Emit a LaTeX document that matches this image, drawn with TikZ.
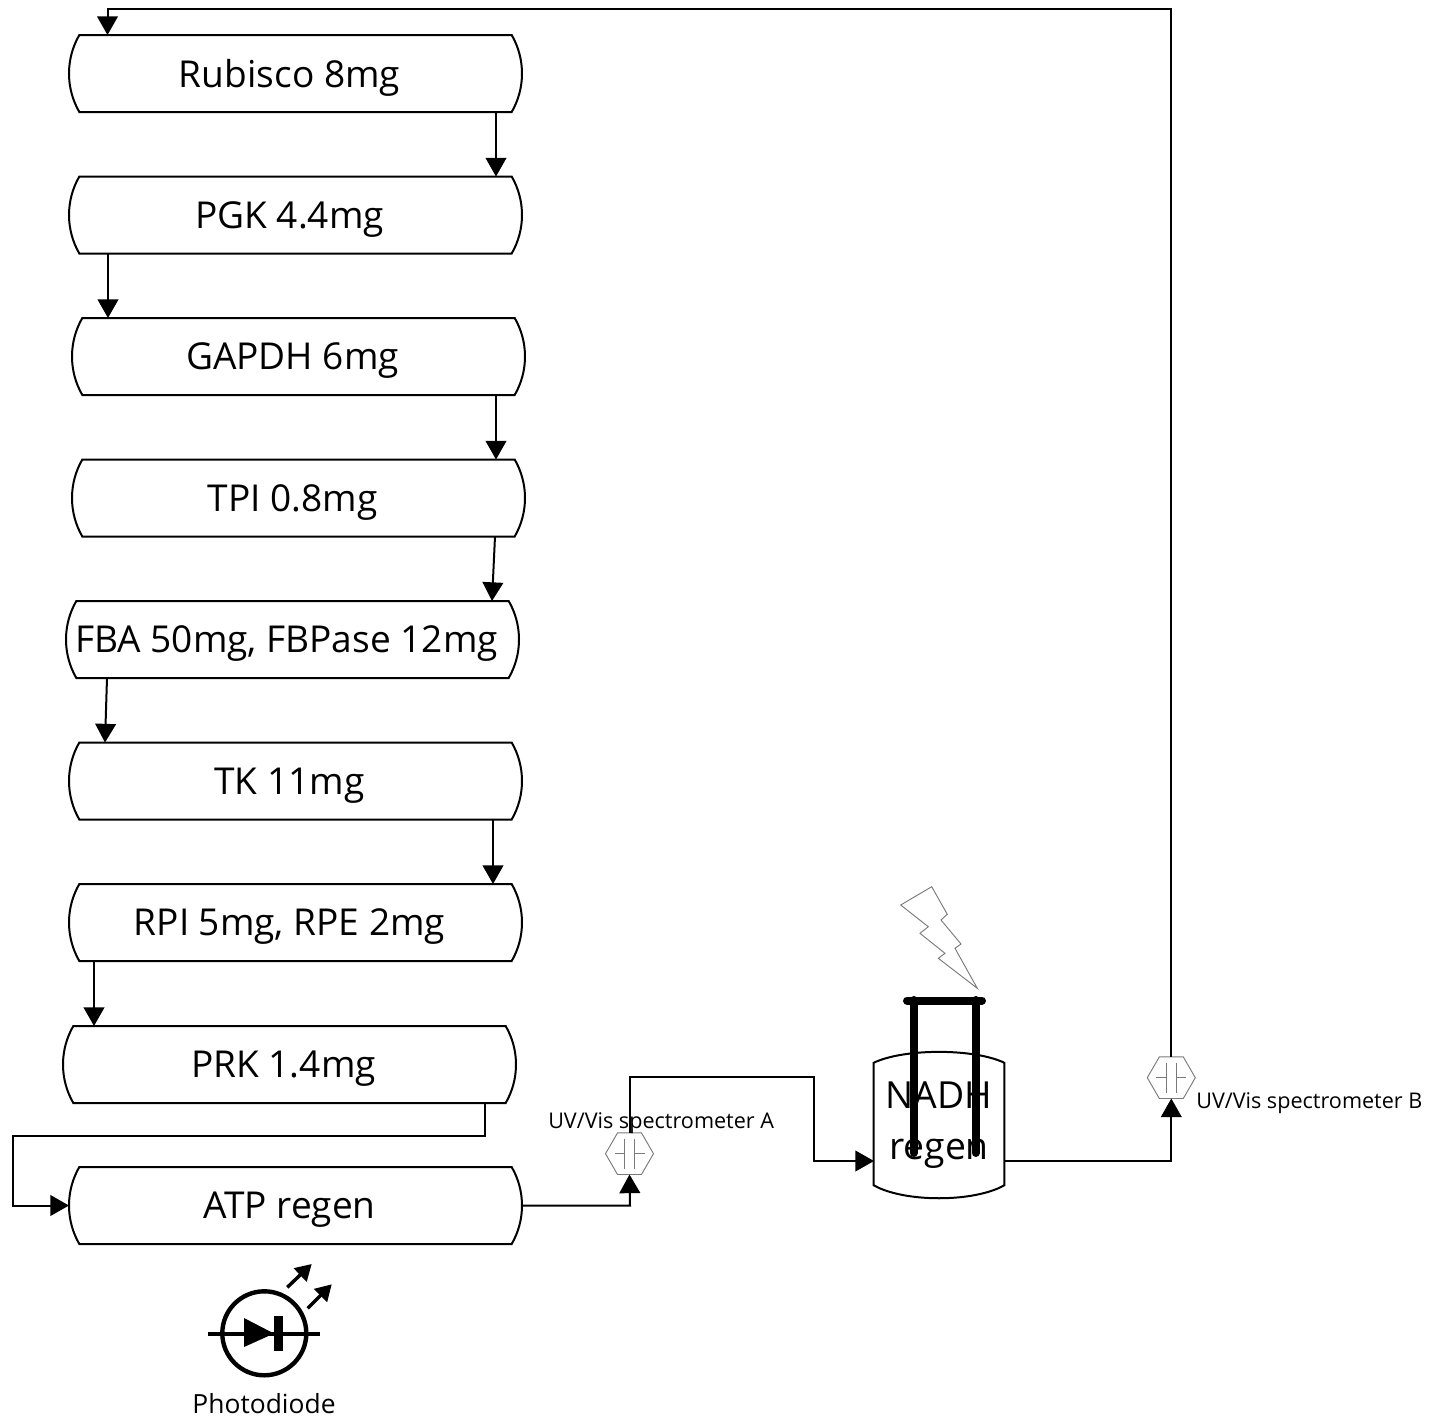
\documentclass[tikz,border=0pt]{standalone}
\usepackage{xcolor}
\usepackage{fontspec}
\setmainfont{Open Sans}
\usetikzlibrary{arrows.meta,calc,shapes.misc,shapes.geometric}
\definecolor{Ink}{HTML}{000000}
\definecolor{Soft}{HTML}{7A7A7A}
\tikzset{
  enzyme/.style={draw=Ink, line width=1.5pt, rounded rectangle, rounded rectangle arc length=60, minimum width=339.75pt, minimum height=57.75pt, inner sep=0pt, outer sep=0pt, text depth=0pt, font=\fontsize{27.8}{32}\selectfont, execute at end node={\hspace{9pt}}},
  flow/.style={draw=Ink, line width=1.5pt, -{Triangle[length=14pt,width=15.5pt]}},
  pipe/.style={draw=Ink, line width=1.5pt},
  cuvette/.style={draw=Soft, line width=0.7pt, regular polygon, regular polygon sides=6, minimum size=36pt, inner sep=0pt, outer sep=0pt,
    path picture={
      \draw[Soft, line width=0.7pt] ($(path picture bounding box.center)+(-5,-15)$) -- ++(0,30);
      \draw[Soft, line width=0.7pt] ($(path picture bounding box.center)+(5,-15)$) -- ++(0,30);
      \draw[Soft, line width=0.7pt] ($(path picture bounding box.center)+(-15,0)$) -- ++(10,0);
      \draw[Soft, line width=0.7pt] ($(path picture bounding box.center)+(5,0)$) -- ++(10,0);
    }},
  specname/.style={font=\fontsize{16.2}{19}\selectfont, inner sep=0pt},
  electrode/.style={draw=Ink, line width=6pt, line cap=round},
  ray/.style={draw=Ink, line width=2.6pt, -{Triangle[length=12pt,width=13.5pt]}}
}
\begin{document}
\begin{tikzpicture}[x=0.75pt, y=-0.75pt]
  \useasboundingbox (0,0) rectangle (1440,1418);
  % enzyme column
  \node[enzyme] (rubisco) at (295.5,73.5) {Rubisco 8mg};
  \node[enzyme] (pgk) at (295.5,215) {PGK 4.4mg};
  \node[enzyme] (gapdh) at (298.5,356.5) {GAPDH 6mg};
  \node[enzyme] (tpi) at (298.5,498) {TPI 0.8mg};
  \node[enzyme] (fba) at (292.5,639.5) {FBA 50mg, FBPase 12mg};
  \node[enzyme] (tk) at (295.5,781) {TK 11mg};
  \node[enzyme] (rpi) at (295.5,922.5) {RPI 5mg, RPE 2mg};
  \node[enzyme] (prk) at (289.5,1064.5) {PRK 1.4mg};
  \node[enzyme] (atp) at (295.5,1205.5) {ATP regen};

  \draw[flow] ($(rubisco.south)+(200.5,0)$) -- ($(pgk.north)+(200.5,0)$);
  \draw[flow] ($(pgk.south)+(-187.5,0)$) -- ($(gapdh.north)+(-190.5,0)$);
  \draw[flow] ($(gapdh.south)+(197.5,0)$) -- ($(tpi.north)+(197.5,0)$);
  \draw[flow] ($(tpi.south)+(196.5,0)$) -- ($(fba.north)+(199.5,0)$);
  \draw[flow] ($(fba.south)+(-185.5,0)$) -- ($(tk.north)+(-190.5,0)$);
  \draw[flow] ($(tk.south)+(197.5,0)$) -- ($(rpi.north)+(197.5,0)$);
  \draw[flow] ($(rpi.south)+(-201.5,0)$) -- ($(prk.north)+(-195.5,0)$);
  \coordinate (prkout) at ($(prk.south)+(195.5,0)$);
  \coordinate (leftturn) at (13,1136);
  \draw[flow] (prkout) |- (leftturn) |- (atp.west);

  % spectrometers
  \node[cuvette] (specA) at (629.5,1153.7) {};
  \node[cuvette] (specB) at (1171.3,1077.7) {};
  \node[specname, anchor=west] (specAname) at (548,1123) {UV/Vis spectrometer A};
  \node[specname, anchor=west] (specBname) at (1196,1103) {UV/Vis spectrometer B};

  % regeneration vessel
  \node[inner sep=0pt, minimum width=97.5pt, minimum height=109.5pt] (vessel) at (939,1125) {};
  \draw[pipe] ($(vessel.north west)+(0,11)$) .. controls ($(vessel.north)+(-35,-3.5)$) and ($(vessel.north)+(35,-3.5)$) .. ($(vessel.north east)+(0,11)$)
    -- ($(vessel.south east)+(0,-13)$) .. controls ($(vessel.south)+(35,4.3)$) and ($(vessel.south)+(-35,4.3)$) .. ($(vessel.south west)+(0,-13)$) -- cycle;
  \draw[electrode] (913.5,1000) -- (913.5,1153);
  \draw[electrode] (975.5,1000) -- (975.5,1153);
  \draw[electrode] (907,1000.5) -- (982,1000.5);
  \node[align=center, inner sep=0pt, font=\fontsize{28}{38}\selectfont] (vesselname) at (939,1125) {NADH\\regen};
  \draw[Soft, line width=0.7pt, line join=miter] (931.7,886.7) -- (900.7,905) -- (928.3,926.7) -- (920,933.3) -- (945,953.3) -- (938.3,958.3) -- (977.3,988.3) -- (955,948.3) -- (961,944) -- (941,920) -- (947.3,914.3) -- cycle;

  \coordinate (atpout) at (630,1205.5);
  \draw[flow] (atp.east) -- (atpout) -- (specA.south);
  \coordinate (overA) at (629.5,1077);
  \coordinate (overB) at (814,1077);
  \coordinate (intoB) at (814,1161);
  \coordinate (vesselin) at (874,1161);
  \coordinate (vesselout) at (1004,1161);
  \coordinate (belowB) at (1171.3,1161);
  \coordinate (topright) at (1171.3,9);
  \coordinate (topleft) at (107.5,9);
  \draw[flow] (specA.north) -- (overA) -- (overB) -- (intoB) -- (vesselin);
  \draw[flow] (vesselout) -- (belowB) -- (specB.south);
  \draw[flow] (specB.north) -- (topright) -- (topleft) -- ($(rubisco.north)+(-188,0)$);

  % photodiode
  \node[circle, draw=Ink, line width=3.3pt, minimum size=63pt, inner sep=0pt] (diode) at (264.3,1333.3) {};
  \coordinate (diodeL) at (208,1333.5);
  \coordinate (diodeR) at (320,1333.5);
  \draw[Ink, line width=3pt] (diodeL) -- (diodeR);
  \fill[Ink] (244,1318) -- (244,1347) -- (274,1333.5) -- cycle;
  \fill[Ink] (274.3,1316) rectangle (282.7,1351);
  \draw[ray] (287.3,1287.3) -- (311.7,1264);
  \draw[ray] (307.7,1308.3) -- (331.7,1284.3);
  \node[font=\fontsize{19.8}{24}\selectfont, inner sep=0pt] (diodename) at (264,1404) {Photodiode};
\end{tikzpicture}
\end{document}
